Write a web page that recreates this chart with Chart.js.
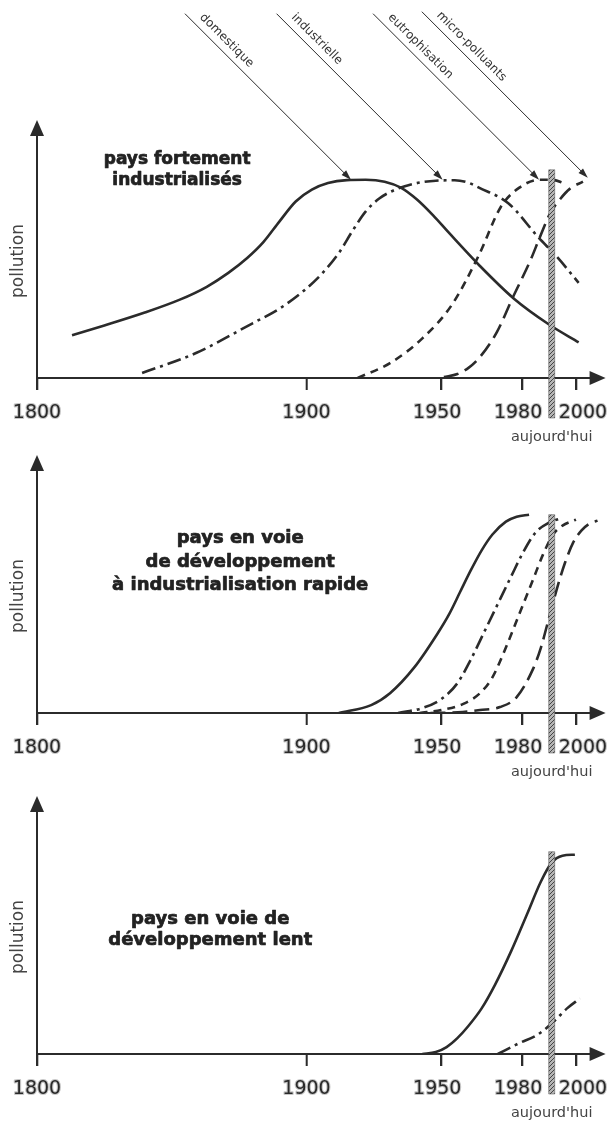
<!DOCTYPE html>
<html>
<head>
<meta charset="utf-8">
<script src="https://cdn.jsdelivr.net/npm/chart.js@4.4.1/dist/chart.umd.min.js"></script>
<style>
  html, body { margin: 0; padding: 0; background: #fff; }
  body { width: 612px; height: 1125px; position: relative; overflow: hidden; }
  canvas { position: absolute; left: 0; }
</style>
</head>
<body>
<canvas id="panel1" width="612" height="450" style="top:0"></canvas>
<canvas id="panel2" width="612" height="330" style="top:450px"></canvas>
<canvas id="panel3" width="612" height="345" style="top:780px"></canvas>
<script>
const yearTicks = [1800, 1900, 1950, 1980, 2000];
const today = 1991;
const pollutants = ['domestique', 'industrielle', 'eutrophisation', 'micro-polluants'];

// pays fortement industrialisés
const p1DomYears = [1813, 1825, 1840, 1853, 1863, 1871, 1878, 1884, 1890, 1896, 1902, 1908, 1915, 1922, 1929, 1935, 1941, 1947, 1953, 1964, 1977, 1990, 2001];
const p1DomValues = [21.6, 26.5, 33, 39.5, 46, 53, 60.5, 68.5, 79, 89, 95, 98.3, 99.8, 100, 99, 96, 90, 82, 73, 57, 40, 27, 18];
const p1IndYears = [1839, 1859, 1880, 1890, 1899, 1906, 1912, 1917, 1922, 1927, 1933, 1940, 1948, 1955, 1960, 1964, 1975, 1986, 1993, 2001];
const p1IndValues = [2.5, 12.6, 27.6, 35, 44, 53, 63, 74, 84, 90.5, 95, 98, 99.5, 99.7, 98.5, 96, 88, 71, 61, 48];
const p1EutYears = [1919, 1931, 1943, 1954, 1964, 1972, 1979, 1986.5, 1991, 1996];
const p1EutValues = [0, 7.5, 20, 37, 62, 86, 96, 100, 100, 98];
const p1MicYears = [1951, 1956, 1960, 1964, 1970.6, 1976.7, 1983, 1986.6, 1990.4, 1994, 1997.8, 2002.6];
const p1MicValues = [0.5, 2, 5, 10, 23, 41, 59, 71, 83, 90, 95.5, 99];

// labels pointing at each peak
const peakYears = [1916.5, 1950.5, 1986.3, 2004.4];
const peakValues = [100, 100, 100, 101];

// pays en voie de développement à industrialisation rapide
const p2DomYears = [1912, 1924, 1931, 1940, 1948.6, 1953, 1957, 1961, 1965, 1969, 1974, 1978, 1982.6];
const p2DomValues = [0, 4, 10, 23, 40, 50, 61, 72, 82, 90, 96.5, 99, 100];
const p2IndYears = [1934, 1943, 1950, 1956, 1961, 1966, 1971, 1976, 1980, 1985, 1990, 1994];
const p2IndValues = [0, 2.5, 7, 15, 27, 41, 55, 69, 80, 91, 96, 98];
const p2EutYears = [1942, 1950, 1958, 1964.4, 1969, 1974, 1979, 1984, 1987.8, 1991.5, 1995, 2000];
const p2EutValues = [0, 1.5, 4.5, 10, 18, 33, 50, 67, 80, 90, 94.5, 97.5];
const p2MicYears = [1946, 1958, 1964.4, 1971.8, 1978, 1984, 1987, 1990, 1993, 1996, 1999, 2002, 2005, 2008];
const p2MicValues = [0, 0.5, 1.5, 3, 8, 22, 33, 48, 63, 76, 86, 92, 95.5, 97];

// pays en voie de développement lent
const p3DomYears = [1943, 1948, 1952, 1956, 1960, 1965, 1970, 1976, 1982, 1987, 1991, 1995, 1999.6];
const p3DomValues = [0, 1, 3.5, 8, 14, 23, 35, 52, 71, 87, 96.5, 100, 100.5];
const p3IndYears = [1971, 1979, 1985.5, 1991.5, 1996.7, 2001.5];
const p3IndValues = [0, 5.5, 9.5, 16, 23, 28];

const ink = '#2b2b2b';
const dashes = {
  'domestique': [],
  'industrielle': [14, 5, 3, 5],
  'eutrophisation': [8, 6],
  'micro-polluants': [15, 7]
};

function series(kind, years, values) {
  return {
    label: kind,
    data: years.map((x, i) => ({ x: x, y: values[i] })),
    borderColor: ink,
    borderWidth: 2.6,
    borderDash: dashes[kind],
    cubicInterpolationMode: 'monotone',
    pointRadius: 0,
    fill: false
  };
}

function hatchPattern(ctx) {
  const c = document.createElement('canvas');
  c.width = 4; c.height = 4;
  const g = c.getContext('2d');
  g.fillStyle = '#b5b5b5';
  g.fillRect(0, 0, 4, 4);
  g.strokeStyle = '#454545';
  g.lineWidth = 1;
  g.beginPath();
  g.moveTo(0, 4); g.lineTo(4, 0);
  g.moveTo(-1, 1); g.lineTo(1, -1);
  g.moveTo(3, 5); g.lineTo(5, 3);
  g.stroke();
  return ctx.createPattern(c, 'repeat');
}

// axes with arrow heads, ticks and year labels, "aujourd'hui" bar, titles, labelled arrows
const frame = {
  id: 'frame',
  beforeDatasetsDraw(chart) {
    const { ctx, chartArea: a, scales: { x } } = chart;
    ctx.save();
    ctx.strokeStyle = ink;
    ctx.fillStyle = ink;
    ctx.lineWidth = 2;
    ctx.beginPath();
    ctx.moveTo(a.left, a.bottom + 12);
    ctx.lineTo(a.left, a.top - 12);
    ctx.moveTo(a.left, a.bottom);
    ctx.lineTo(a.right - 12, a.bottom);
    ctx.stroke();
    ctx.lineWidth = 1.6;
    ctx.beginPath();
    yearTicks.forEach((v) => {
      const px = Math.round(x.getPixelForValue(v)) + 0.5;
      ctx.moveTo(px, a.bottom);
      ctx.lineTo(px, a.bottom + 12);
    });
    ctx.stroke();
    ctx.beginPath();
    ctx.moveTo(a.left, a.top - 24);
    ctx.lineTo(a.left - 7, a.top - 8);
    ctx.lineTo(a.left + 7, a.top - 8);
    ctx.closePath();
    ctx.moveTo(a.right, a.bottom);
    ctx.lineTo(a.right - 16, a.bottom - 7);
    ctx.lineTo(a.right - 16, a.bottom + 7);
    ctx.closePath();
    ctx.fill();
    ctx.restore();
  },
  afterDatasetsDraw(chart, args, opts) {
    const { ctx, chartArea: a, scales: { x, y } } = chart;
    ctx.save();

    // year labels, slightly spread around the today bar
    ctx.font = '19px "DejaVu Sans"';
    ctx.textAlign = 'center';
    ctx.textBaseline = 'middle';
    ctx.lineJoin = 'round';
    yearTicks.forEach((v) => {
      const px = x.getPixelForValue(v) + (opts.labelNudge[v] || 0);
      ctx.strokeStyle = 'rgba(150,150,150,0.55)';
      ctx.lineWidth = 2.2;
      ctx.strokeText(String(v), px, a.bottom + 35);
      ctx.fillStyle = '#2a2a2a';
      ctx.fillText(String(v), px, a.bottom + 35);
    });

    // today
    const tx = x.getPixelForValue(today);
    const top = y.getPixelForValue(opts.todayTop);
    ctx.fillStyle = hatchPattern(ctx);
    ctx.fillRect(tx - 3, top, 6, a.bottom + 40 - top);
    ctx.strokeStyle = 'rgba(70,70,70,0.6)';
    ctx.lineWidth = 0.8;
    ctx.strokeRect(tx - 3, top, 6, a.bottom + 40 - top);

    ctx.fillStyle = '#444';
    ctx.font = '14.5px "DejaVu Sans"';
    ctx.fillText("aujourd'hui", tx, a.bottom + 59);

    // y axis name
    ctx.save();
    ctx.translate(a.left - 18, (a.top + a.bottom) / 2);
    ctx.rotate(-Math.PI / 2);
    ctx.font = '17px "DejaVu Sans"';
    ctx.fillText('pollution', 0, 0);
    ctx.restore();

    // panel title
    ctx.fillStyle = '#222';
    ctx.strokeStyle = '#222';
    ctx.lineWidth = 0.7;
    ctx.font = 'bold ' + opts.titleSize + 'px "DejaVu Sans"';
    const cx = x.getPixelForValue(opts.titleAt[0]);
    const cy = y.getPixelForValue(opts.titleAt[1]);
    const lines = opts.title;
    lines.forEach((t, i) => {
      const ly = cy + (i - (lines.length - 1) / 2) * opts.titleLine;
      ctx.fillText(t, cx, ly);
      ctx.strokeText(t, cx, ly);
    });

    // labelled arrows pointing at the peaks
    if (opts.arrows) {
      const rise = 166;
      ctx.strokeStyle = ink;
      ctx.fillStyle = ink;
      ctx.lineWidth = 1;
      opts.arrows.labels.forEach((label, i) => {
        const ex = x.getPixelForValue(opts.arrows.years[i]);
        const ey = y.getPixelForValue(opts.arrows.values[i]);
        const sx = ex - rise, sy = ey - rise;
        ctx.beginPath();
        ctx.moveTo(sx, sy);
        ctx.lineTo(ex - 3, ey - 3);
        ctx.stroke();
        ctx.save();
        ctx.translate(ex, ey);
        ctx.rotate(Math.PI / 4);
        ctx.beginPath();
        ctx.moveTo(0, 0);
        ctx.lineTo(-10, -3.2);
        ctx.lineTo(-10, 3.2);
        ctx.closePath();
        ctx.fill();
        ctx.restore();
        ctx.save();
        ctx.translate(sx, sy);
        ctx.rotate(Math.PI / 4);
        ctx.font = '12px "DejaVu Sans"';
        ctx.textAlign = 'left';
        ctx.fillStyle = '#333';
        ctx.fillText(label, 13, -10.5);
        ctx.restore();
      });
    }
    ctx.restore();
  }
};

function makePanel(id, datasets, padTop, padBottom, frameOpts) {
  frameOpts.labelNudge = { 1950: -4, 1980: -4, 2000: 7 };
  return new Chart(document.getElementById(id), {
    type: 'line',
    data: { datasets: datasets },
    options: {
      responsive: false,
      animation: false,
      devicePixelRatio: 1,
      layout: { padding: { left: 37, right: 6.4, top: padTop, bottom: padBottom } },
      plugins: { legend: { display: false }, tooltip: { enabled: false }, frame: frameOpts },
      scales: {
        x: {
          type: 'linear',
          min: 1800,
          max: 2011,
          afterBuildTicks: (s) => { s.ticks = yearTicks.map(v => ({ value: v })); },
          border: { display: false },
          grid: { drawOnChartArea: false, tickLength: 12, color: ink, lineWidth: 1.6 },
          ticks: { display: false }
        },
        y: { display: false, min: 0, max: 118 }
      }
    },
    plugins: [frame]
  });
}

makePanel('panel1', [
  series(pollutants[0], p1DomYears, p1DomValues),
  series(pollutants[1], p1IndYears, p1IndValues),
  series(pollutants[2], p1EutYears, p1EutValues),
  series(pollutants[3], p1MicYears, p1MicValues)
], 144, 60, {
  title: ['pays fortement', 'industrialisés'],
  titleAt: [1852, 104.8], titleSize: 17, titleLine: 21,
  todayTop: 105,
  arrows: { labels: pollutants, years: peakYears, values: peakValues }
});

makePanel('panel2', [
  series(pollutants[0], p2DomYears, p2DomValues),
  series(pollutants[1], p2IndYears, p2IndValues),
  series(pollutants[2], p2EutYears, p2EutValues),
  series(pollutants[3], p2MicYears, p2MicValues)
], 29, 55, {
  title: ['pays en voie', 'de développement', 'à industrialisation rapide'],
  titleAt: [1875.4, 76], titleSize: 18, titleLine: 23.5,
  todayTop: 100
});

makePanel('panel3', [
  series(pollutants[0], p3DomYears, p3DomValues),
  series(pollutants[1], p3IndYears, p3IndValues)
], 40, 59, {
  title: ['pays en voie de', 'développement lent'],
  titleAt: [1864.3, 62.6], titleSize: 18, titleLine: 21,
  todayTop: 102
});
</script>
</body>
</html>
